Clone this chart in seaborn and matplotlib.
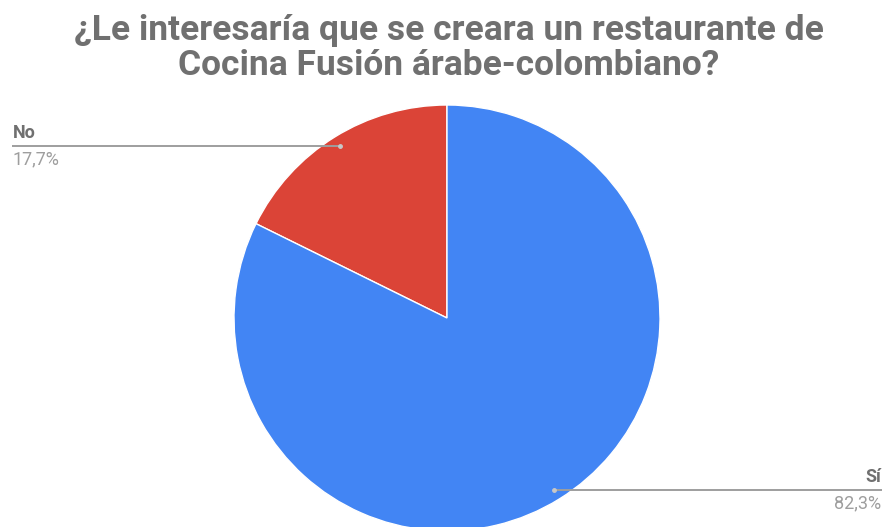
import numpy as np
import matplotlib
matplotlib.use("Agg")
import matplotlib.pyplot as plt
import seaborn as sns

title_lines = ["¿Le interesaría que se creara un restaurante de",
               "Cocina Fusión árabe-colombiano?"]
categories = ["No", "Sí"]
values = [17.7, 82.3]
value_labels = ["17,7%", "82,3%"]
colors = ["#DB4437", "#4285F4"]

sns.set_theme(style="white")
plt.rcParams['font.family'] = ['Roboto', 'DejaVu Sans']

W, H = 886, 527
fig = plt.figure(figsize=(W / 100, H / 100), dpi=100)
ax = fig.add_axes([0, 0, 1, 1])

cx, cy, r = 447, H - 318, 213
wedges, _ = ax.pie(values, colors=colors, startangle=90, counterclock=True,
                   center=(cx, cy), radius=r, frame=False,
                   wedgeprops=dict(edgecolor="white", linewidth=1))
ax.set_xlim(0, W)
ax.set_ylim(0, H)
ax.set_aspect("equal")
ax.axis("off")

# leader lines and labels
for w, cat, lab in zip(wedges, categories, value_labels):
    mid = np.deg2rad((w.theta1 + w.theta2) / 2)
    px = cx + 0.95 * r * np.cos(mid)
    py = cy + 0.95 * r * np.sin(mid)
    if np.cos(mid) < 0:
        xe, ha, tx = 12, "left", 13
    else:
        xe, ha, tx = 882, "right", 881
    ax.plot([px, xe], [py, py], color="#9e9e9e", lw=1.4, zorder=3,
            solid_capstyle="butt")
    ax.plot([px], [py], marker="o", ms=2.5, color="#c8c8c8", zorder=4)
    ax.text(tx, py + 8, cat, ha=ha, va="baseline", fontsize=13,
            fontweight="bold", color="#707070")
    ax.text(tx, py - 4, lab, ha=ha, va="top", fontsize=13, color="#9e9e9e")

for i, line in enumerate(title_lines):
    ax.text(449, H - 40 - 35 * i, line, ha="center", va="baseline",
            fontsize=25.5, fontweight="bold", color="#707070")

fig.savefig("out.png", dpi=100, facecolor="white")
